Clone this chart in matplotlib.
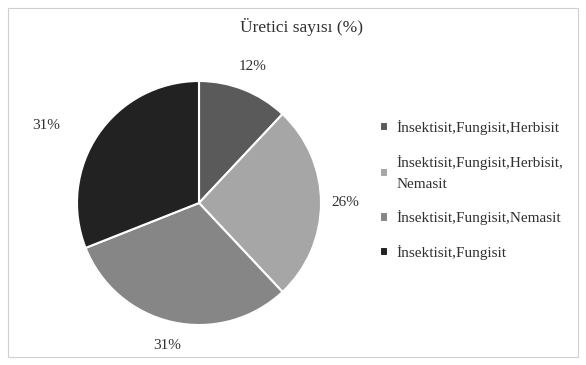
import matplotlib.pyplot as plt
from matplotlib.patches import Rectangle

plt.rcParams['font.family'] = ['Liberation Serif', 'DejaVu Serif']

# data
labels = ["İnsektisit,Fungisit,Herbisit",
          "İnsektisit,Fungisit,Herbisit,\nNemasit",
          "İnsektisit,Fungisit,Nemasit",
          "İnsektisit,Fungisit"]
values = [12, 26, 31, 31]
colors = ["#5a5a5a", "#a6a6a6", "#868686", "#222222"]

fig = plt.figure(figsize=(5.86, 3.65), dpi=100)
fig.patches.append(Rectangle((8 / 586, 8 / 365), 570 / 586, 349 / 365,
                             transform=fig.transFigure, fill=False,
                             edgecolor="#d0d0d0", linewidth=0.8))

ax = fig.add_axes([77 / 586, 40 / 365, 244 / 586, 244 / 365])
wedges, texts, autotexts = ax.pie(values, colors=colors, startangle=90,
                                  counterclock=False, autopct="%1.0f%%",
                                  pctdistance=1.2,
                                  wedgeprops=dict(edgecolor="white", linewidth=1.5),
                                  textprops=dict(fontsize=11, color="#303030"))
# Excel pushes the last label further out to the left
x, y = autotexts[-1].get_position()
autotexts[-1].set_position((x * 1.26, y * 0.94))
ax.set_xlim(-1, 1)
ax.set_ylim(-1, 1)
ax.set_aspect("equal")

fig.text(301 / 586, 1 - 27 / 365, "Üretici sayısı (%)", ha="center", va="center",
         fontsize=12.5, color="#303030")

leg = fig.legend(wedges, labels, loc="center left", bbox_to_anchor=(366 / 586, 1 - 190 / 365),
                 frameon=False, fontsize=11, handlelength=0.55, handleheight=0.55,
                 handletextpad=0.55, labelspacing=1.3, labelcolor="#303030")
for t in leg.get_texts():
    t.set_linespacing(1.8)

fig.savefig("out.png", dpi=100)
